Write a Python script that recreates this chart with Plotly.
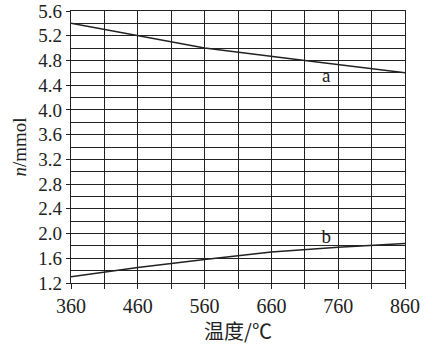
import plotly.graph_objects as go

temps_a = [360, 410, 460, 560, 710, 860]
n_a = [5.4, 5.3, 5.2, 5.0, 4.8, 4.6]
temps_b = [360, 460, 560, 660, 760, 860]
n_b = [1.30, 1.45, 1.58, 1.70, 1.78, 1.84]
x_ticks = [360, 460, 560, 660, 760, 860]
y_ticks = [1.2, 1.6, 2.0, 2.4, 2.8, 3.2, 3.6, 4.0, 4.4, 4.8, 5.2, 5.6]
labels = ["a", "b"]
label_x = [742, 742]
label_y = [4.53, 1.93]

serif = "'Times New Roman', 'Liberation Serif', serif"
ink = "#222222"

fig = go.Figure()
fig.add_trace(go.Scatter(x=temps_a, y=n_a, mode="lines", line=dict(color=ink, width=1.5), showlegend=False))
fig.add_trace(go.Scatter(x=temps_b, y=n_b, mode="lines", line=dict(color=ink, width=1.5), showlegend=False))
fig.add_trace(go.Scatter(x=label_x, y=label_y, mode="text", text=labels,
                         textfont=dict(family=serif, size=19, color=ink), showlegend=False))

fig.update_layout(
    width=434, height=345,
    margin=dict(l=71, r=29, t=11, b=62),
    paper_bgcolor="white", plot_bgcolor="white",
    font=dict(family=serif, color=ink, size=18),
)
fig.update_xaxes(
    range=[360, 860], tickvals=x_ticks, ticktext=[str(v) for v in x_ticks],
    showgrid=True, gridcolor=ink, gridwidth=1.4,
    minor=dict(dtick=50, tick0=360, showgrid=True, gridcolor=ink, gridwidth=1.4, ticks="outside", ticklen=5, tickcolor=ink),
    ticks="outside", ticklen=5, tickcolor=ink,
    showline=True, linecolor=ink, linewidth=1.4, mirror=True,
    zeroline=False, automargin=False,
    tickfont=dict(family=serif, size=20, color=ink),
    title=dict(text="温度/℃", font=dict(family="Noto Sans CJK SC", size=20, color=ink), standoff=20),
)
fig.update_yaxes(
    range=[1.2, 5.6], tickvals=y_ticks, ticktext=[f"{v:.1f}" for v in y_ticks],
    showgrid=True, gridcolor=ink, gridwidth=1.4,
    minor=dict(dtick=0.2, tick0=1.2, showgrid=True, gridcolor=ink, gridwidth=1.4),
    ticks="outside", ticklen=4, tickcolor=ink,
    showline=True, linecolor=ink, linewidth=1.4, mirror=True,
    zeroline=False, automargin=False,
    tickfont=dict(family=serif, size=19, color=ink),
    title=dict(text="<i>n</i>/mmol", font=dict(family=serif, size=19, color=ink), standoff=6),
)

fig.write_html("out.html")
